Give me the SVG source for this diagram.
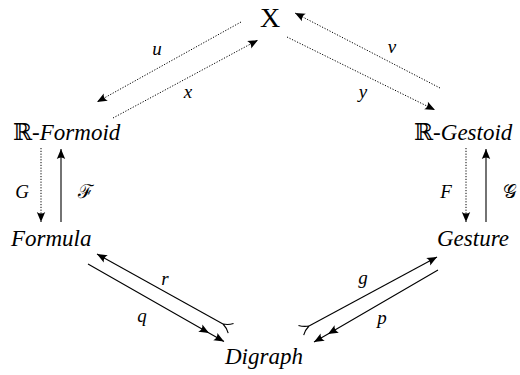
<svg xmlns="http://www.w3.org/2000/svg" width="520" height="375" viewBox="0 0 520 375">
<defs>
<style>
.t{font-family:"Liberation Serif","DejaVu Serif",serif;font-size:23px;fill:#000}
.i{font-style:italic}
.lb{font-family:"Liberation Serif","DejaVu Serif",serif;font-size:19px;font-style:italic;fill:#000;text-anchor:middle}
.dot{fill:none;stroke:#000;stroke-width:1;stroke-dasharray:1.2 1.6}
.sol{fill:none;stroke:#000;stroke-width:1.1}
</style>
<marker id="ah" markerUnits="userSpaceOnUse" viewBox="-11 -5 12 10" refX="0" refY="0" markerWidth="12" markerHeight="10" orient="auto" overflow="visible">
<path d="M0,0 L-10,-4.2 Q-7,0 -10,4.2 Z" fill="#000"/>
</marker>
<marker id="tl" markerUnits="userSpaceOnUse" viewBox="-11 -6 12 12" refX="0" refY="0" markerWidth="12" markerHeight="12" orient="auto" overflow="visible">
<path d="M0,0 Q-5,-1.5 -9,-5.5 M0,0 Q-5,1.5 -9,5.5" fill="none" stroke="#000" stroke-width="1.1"/>
</marker>
</defs>
<g id="connectors">
<path class="dot" d="M241,22 L97,102" marker-end="url(#ah)"/>
<path class="dot" d="M113,118 L258,40" marker-end="url(#ah)"/>
<path class="dot" d="M440,88 L295,13" marker-end="url(#ah)"/>
<path class="dot" d="M287,37 L435,110" marker-end="url(#ah)"/>
<path class="dot" d="M41,148 L41,222" marker-end="url(#ah)"/>
<path class="sol" d="M61,222 L61,149" marker-end="url(#ah)"/>
<path class="dot" d="M466,148 L466,222" marker-end="url(#ah)"/>
<path class="sol" d="M486,222 L486,149" marker-end="url(#ah)"/>
<path class="sol" d="M223,324 L97,254" marker-start="url(#tl)" marker-end="url(#ah)"/>
<path class="sol" d="M88,264 L209,333 L224,341.5" marker-mid="url(#ah)" marker-end="url(#ah)"/>
<path class="sol" d="M309,326 L437,257" marker-start="url(#tl)" marker-end="url(#ah)"/>
<path class="sol" d="M438,270 L328,334 L314,342" marker-mid="url(#ah)" marker-end="url(#ah)"/>
</g>
<g id="labels">
<text class="lb" x="157" y="55">u</text>
<text class="lb" x="188" y="98">x</text>
<text class="lb" x="392" y="53">v</text>
<text class="lb" x="363" y="98">y</text>
<text class="lb" x="22" y="198">G</text>
<text class="lb" x="86" y="198" style="font-style:normal">ℱ</text>
<text class="lb" x="446" y="198">F</text>
<text class="lb" x="510" y="198" style="font-style:normal">𝒢</text>
<text class="lb" x="165" y="285">r</text>
<text class="lb" x="142" y="322">q</text>
<text class="lb" x="363" y="284">g</text>
<text class="lb" x="382" y="324">p</text>
</g>
<g id="node-X"><text class="t" x="270" y="27" text-anchor="middle" style="font-size:28px">X</text></g>
<g id="node-RFormoid"><text class="t" x="13" y="140">ℝ-<tspan class="i">Formoid</tspan></text></g>
<g id="node-RGestoid"><text class="t" x="414" y="140">ℝ-<tspan class="i">Gestoid</tspan></text></g>
<g id="node-Formula"><text class="t i" x="11" y="246">Formula</text></g>
<g id="node-Gesture"><text class="t i" x="437" y="246">Gesture</text></g>
<g id="node-Digraph"><text class="t i" x="225" y="364">Digraph</text></g>
</svg>
